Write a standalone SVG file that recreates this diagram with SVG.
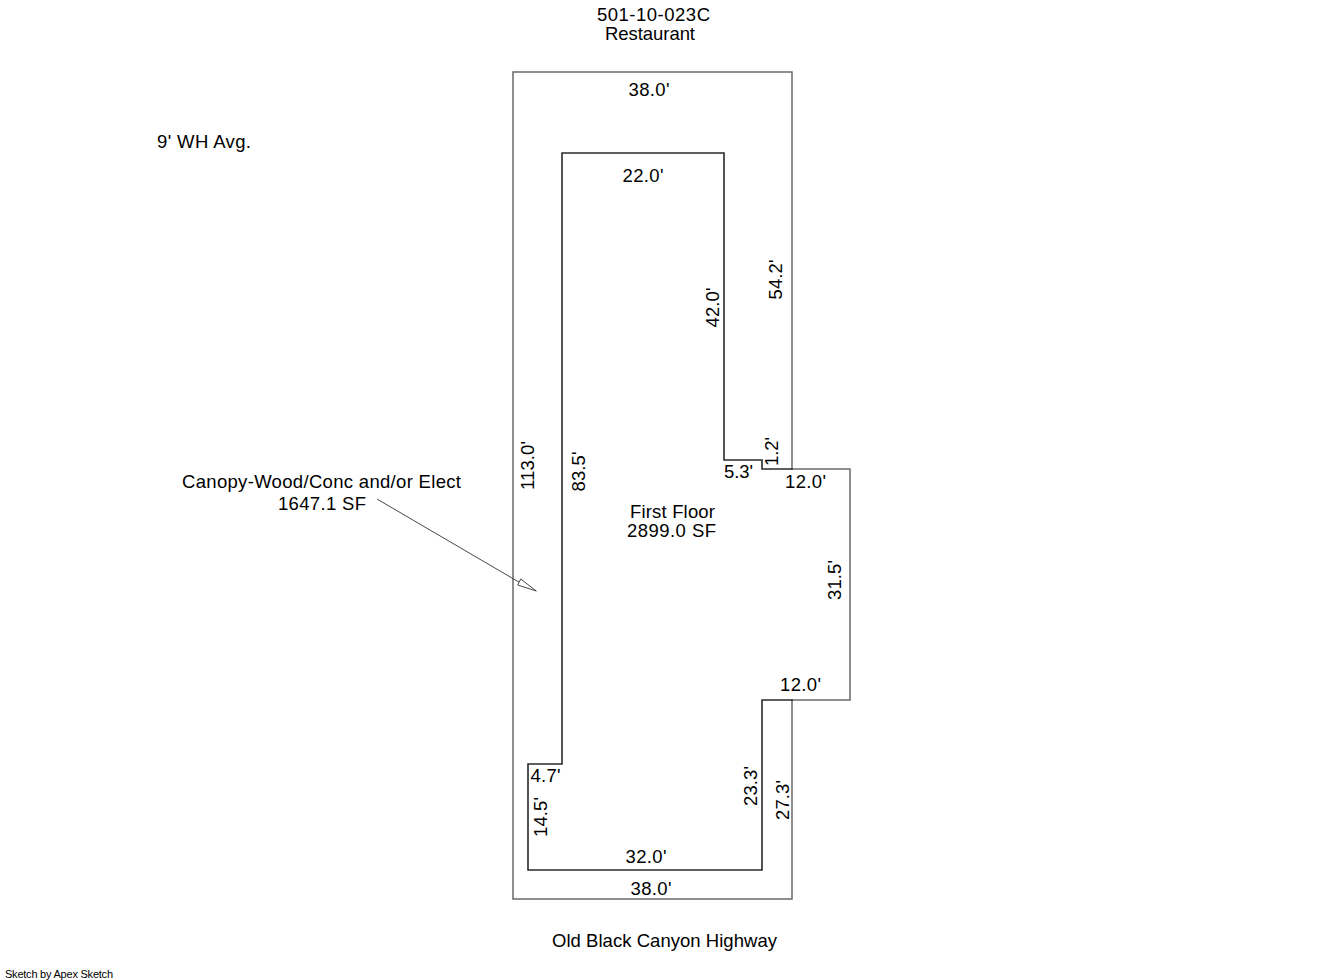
<svg xmlns="http://www.w3.org/2000/svg" width="1336" height="980" viewBox="0 0 1336 980">
<style>
text{font-family:"Liberation Sans",Arial,sans-serif;font-size:18.5px;fill:#000;text-anchor:middle}
.o{fill:none;stroke:#6a6a6a;stroke-width:1.5;stroke-linecap:square}
.i{fill:none;stroke:#2a2a2a;stroke-width:1.6;stroke-linecap:square}
.s{font-size:11px;text-anchor:start}
</style>
<rect width="1336" height="980" fill="#fff"/>
<g id="canopy">
<path class="o" d="M513 72H792V469M792 700V899H513V72"/>
</g>
<g id="first-floor">
<path class="o" d="M792 469H850V700H792"/>
<path class="i" d="M562 153H724V460H762V469H792M792 700H762V870H528V764H562V153"/>
</g>
<g id="connectors">
<path d="M377 499L519.300 582.300" fill="none" stroke="#333" stroke-width="0.9"/>
<path d="M536.300 591L517.700 585L520.700 579Z" fill="#fff" stroke="#333" stroke-width="0.9"/>
</g>
<g id="labels">
<text x="653.500" y="21" textLength="113">501-10-023C</text>
<text x="650" y="40" textLength="90">Restaurant</text>
<text x="204" y="148" textLength="94">9' WH Avg.</text>
<text x="321.500" y="488" textLength="279">Canopy-Wood/Conc and/or Elect</text>
<text x="322" y="510" textLength="88">1647.1 SF</text>
<text x="672.500" y="518" textLength="85">First Floor</text>
<text x="671.500" y="537" textLength="89">2899.0 SF</text>
<text x="649" y="96" textLength="41">38.0'</text>
<text x="643" y="182" textLength="41">22.0'</text>
<text x="738.500" y="478" textLength="29">5.3'</text>
<text x="805.500" y="488" textLength="41">12.0'</text>
<text x="800.500" y="691" textLength="41">12.0'</text>
<text x="545.500" y="782" textLength="30">4.7'</text>
<text x="646" y="863" textLength="41">32.0'</text>
<text x="651" y="895" textLength="41">38.0'</text>
<text x="664.500" y="947" textLength="225">Old Black Canyon Highway</text>
<text transform="translate(534 465.500) rotate(-90)" textLength="49">113.0'</text>
<text transform="translate(585 471.500) rotate(-90)" textLength="40">83.5'</text>
<text transform="translate(719 307.500) rotate(-90)" textLength="40">42.0'</text>
<text transform="translate(782 279.500) rotate(-90)" textLength="40">54.2'</text>
<text transform="translate(778 451.500) rotate(-90)" textLength="29">1.2'</text>
<text transform="translate(841 580) rotate(-90)" textLength="40">31.5'</text>
<text transform="translate(757 786) rotate(-90)" textLength="40">23.3'</text>
<text transform="translate(789 800) rotate(-90)" textLength="40">27.3'</text>
<text transform="translate(547 817) rotate(-90)" textLength="40">14.5'</text>
<text class="s" x="5" y="977.500" textLength="108">Sketch by Apex Sketch</text>
</g>
</svg>
